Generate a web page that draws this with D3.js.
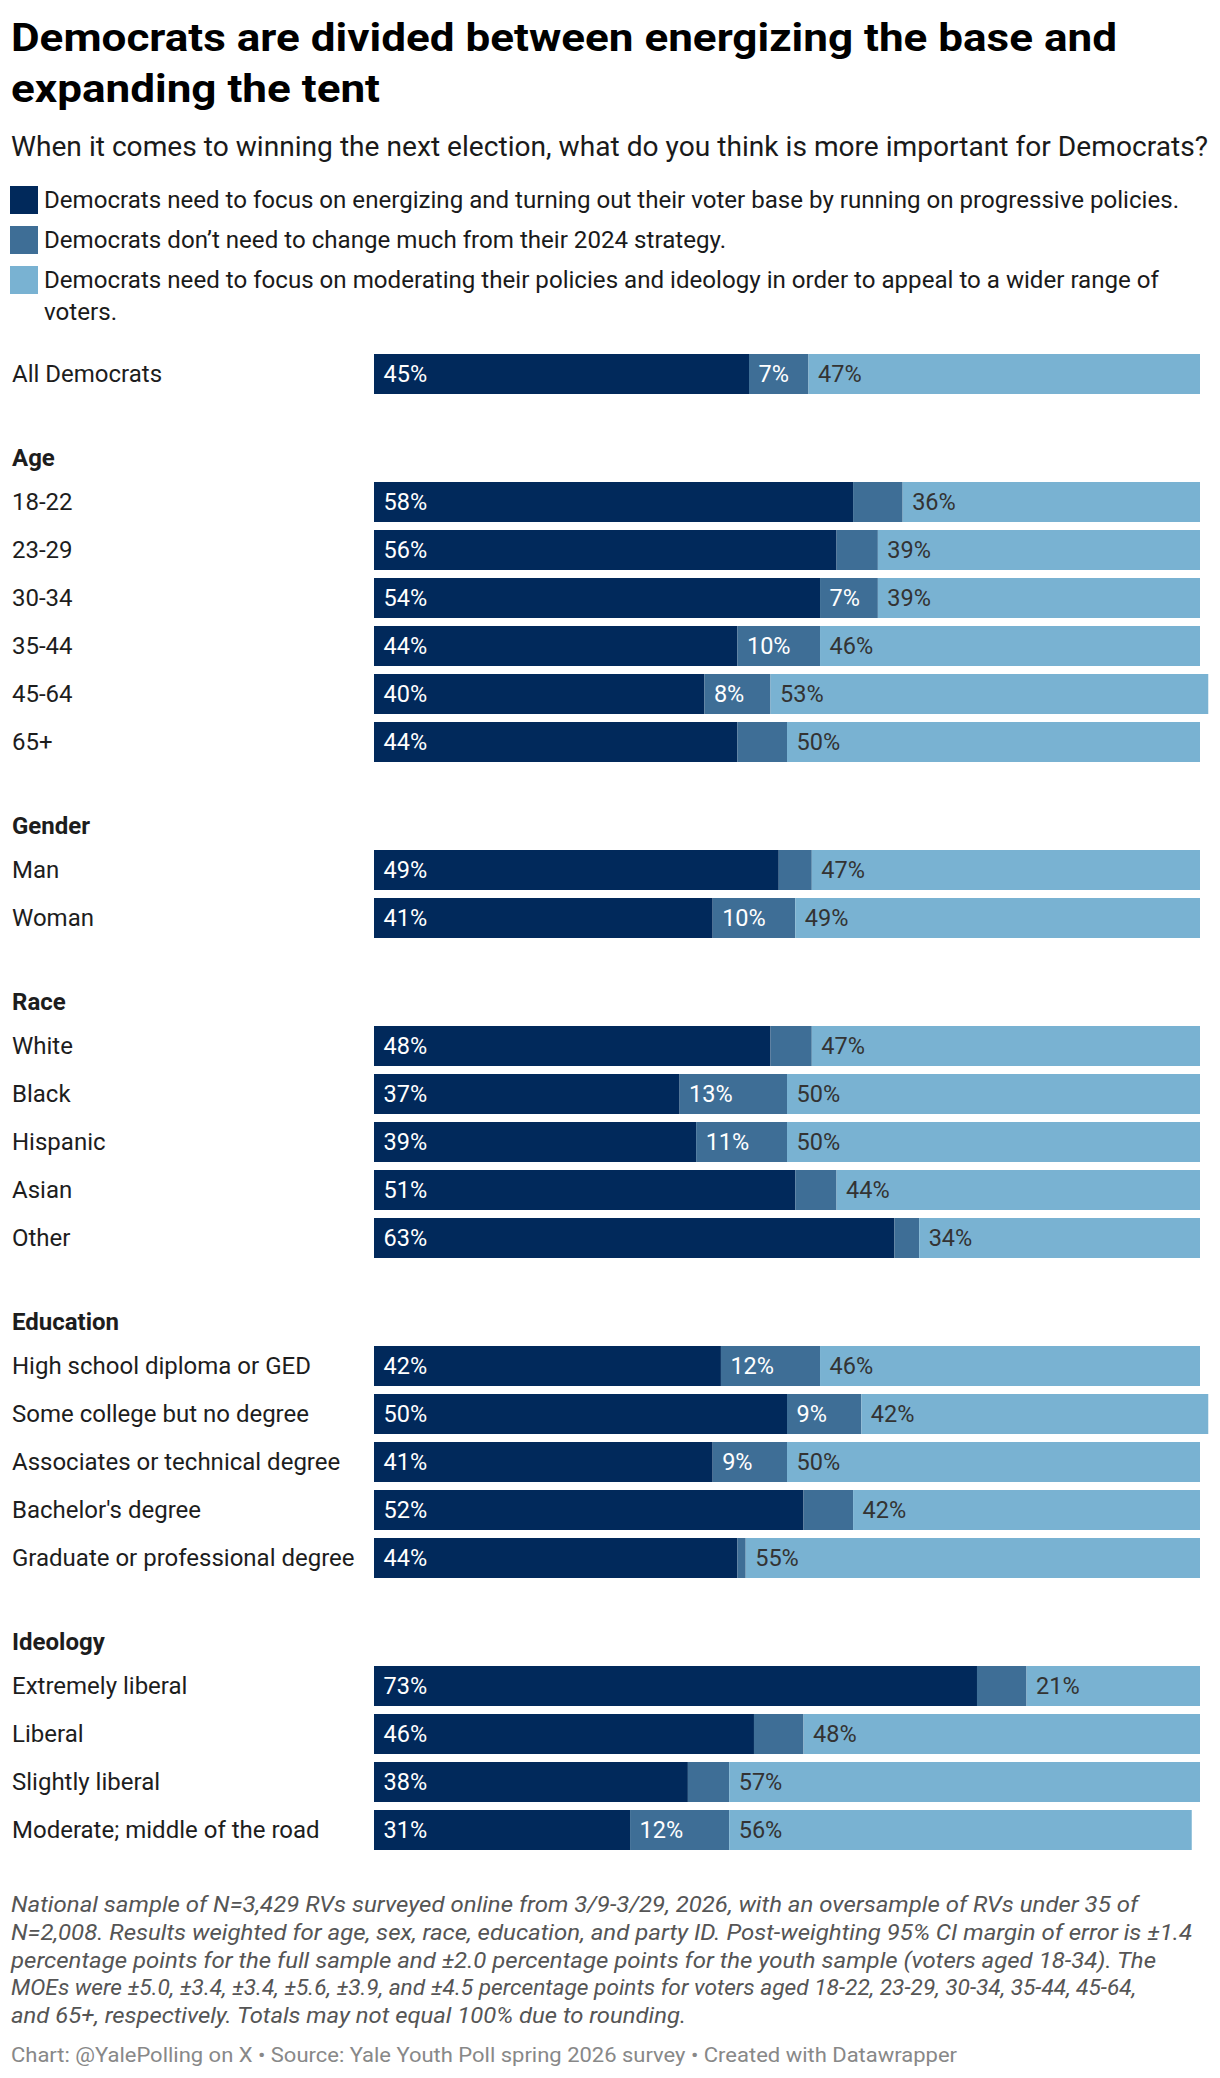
<!DOCTYPE html>
<html>
<head>
<meta charset="utf-8">
<script src="https://cdn.jsdelivr.net/npm/d3@7"></script>
<style>
  body { margin: 0; background: #fff; font-family: Roboto, "Noto Sans", sans-serif; }
  svg text { font-family: Roboto, "Noto Sans", sans-serif; }
</style>
</head>
<body>
<svg id="chart"></svg>
<script>
// groups and their rows
var groups = ["", "Age", "Gender", "Race", "Education", "Ideology"]
var rowGroups = [0, 1,1,1,1,1,1, 2,2, 3,3,3,3,3, 4,4,4,4,4, 5,5,5,5]
var categories = [
  "All Democrats",
  "18-22", "23-29", "30-34", "35-44", "45-64", "65+",
  "Man", "Woman",
  "White", "Black", "Hispanic", "Asian", "Other",
  "High school diploma or GED", "Some college but no degree", "Associates or technical degree",
  "Bachelor's degree", "Graduate or professional degree",
  "Extremely liberal", "Liberal", "Slightly liberal", "Moderate; middle of the road"
]
// energize the base (progressive)
var progressive = [45.4, 58, 56, 54, 44, 40, 44, 49, 41, 48, 37, 39, 51, 63, 42, 50, 41, 52, 44, 73, 46, 38, 31]
// keep the 2024 strategy
var noChange    = [7.2,  6,  5,  7, 10,  8,  6,  4, 10,  5, 13, 11,  5,  3, 12,  9,  9,  6,  1,  6,  6,  5, 12]
// moderate
var moderate    = [47.4, 36, 39, 39, 46, 53, 50, 47, 49, 47, 50, 50, 44, 34, 46, 42, 50, 42, 55, 21, 48, 57, 56]

var colors = ["#01295b", "#3e6e96", "#79b2d2"]
var labelColors = ["#ffffff", "#ffffff", "#333333"]

var titleLines = ["Democrats are divided between energizing the base and", "expanding the tent"]
var subtitle = "When it comes to winning the next election, what do you think is more important for Democrats?"
var legendLines = [
  ["Democrats need to focus on energizing and turning out their voter base by running on progressive policies."],
  ["Democrats don\u2019t need to change much from their 2024 strategy."],
  ["Democrats need to focus on moderating their policies and ideology in order to appeal to a wider range of", "voters."]
]
var notes = [
  "National sample of N=3,429 RVs surveyed online from 3/9-3/29, 2026, with an oversample of RVs under 35 of",
  "N=2,008. Results weighted for age, sex, race, education, and party ID. Post-weighting 95% CI margin of error is \u00b11.4",
  "percentage points for the full sample and \u00b12.0 percentage points for the youth sample (voters aged 18-34). The",
  "MOEs were \u00b15.0, \u00b13.4, \u00b13.4, \u00b15.6, \u00b13.9, and \u00b14.5 percentage points for voters aged 18-22, 23-29, 30-34, 35-44, 45-64,",
  "and 65+, respectively. Totals may not equal 100% due to rounding."
]
var sourceLine = "Chart: @YalePolling on X \u2022 Source: Yale Youth Poll spring 2026 survey \u2022 Created with Datawrapper"

// line widths as set in the original layout
var titleWidths = [1106, 369]
var legendWidths = [[1135], [682], [1115, 73]]
var noteWidths = [1127, 1181, 1145, 1125, 675]

const W = 1220, H = 2078
const GROUP_GAP = 80
const svg = d3.select("#chart").attr("width", W).attr("height", H)

// fit a line to its width only when it comes out narrower or wider than the original
function fit(sel, w) {
  sel.attr("textLength", w).attr("lengthAdjust", "spacingAndGlyphs")
}

// title / subtitle
svg.selectAll(".title").data(titleLines).enter().append("text")
  .attr("x", 11).attr("y", (d, i) => 51 + i * 51)
  .attr("font-size", 38.5).attr("font-weight", 700).attr("fill", "#000")
  .text(d => d)
  .each(function (d, i) { fit(d3.select(this), titleWidths[i]) })

svg.append("text").attr("x", 11).attr("y", 156)
  .attr("font-size", 27.5).attr("fill", "#1a1a1a").text(subtitle)
  .call(fit, 1197)

// legend
const legend = svg.append("g")
legendLines.forEach((lines, i) => {
  legend.append("rect").attr("x", 10).attr("y", 186 + i * 40).attr("width", 28).attr("height", 28)
    .attr("fill", colors[i])
  lines.forEach((l, j) => {
    legend.append("text").attr("x", 44).attr("y", 208 + i * 40 + j * 32)
      .attr("font-size", 24).attr("fill", "#1a1a1a").text(l)
      .call(fit, legendWidths[i][j])
  })
})

// scales
const x = d3.scaleLinear().domain([0, 100]).range([374, 1200])
const yBand = d3.scaleBand()
  .domain(categories)
  .range([350, 350 + categories.length * 48])
  .paddingInner(1 / 6).paddingOuter(1 / 12)
const y = (d, i) => yBand(d) + rowGroups[i] * GROUP_GAP

const rows = categories.map((c, i) => {
  var vals = [progressive[i], noChange[i], moderate[i]]
  var x0 = 0
  var segs = vals.map((v, k) => { var s = {k: k, v: v, x0: x0}; x0 += v; return s })
  return {label: c, i: i, segs: segs}
})

const chart = svg.append("g")

// group headers
groups.forEach((g, gi) => {
  if (!g) return
  var first = rowGroups.indexOf(gi)
  chart.append("text").attr("x", 12).attr("y", y(categories[first], first) - 24)
    .attr("dy", "0.35em").attr("font-size", 24).attr("font-weight", 700).attr("fill", "#1d1d1d")
    .text(g)
})

const row = chart.selectAll(".row").data(rows).enter().append("g").attr("class", "row")
  .attr("transform", d => `translate(0, ${y(d.label, d.i)})`)

row.append("text").attr("x", 12).attr("y", yBand.bandwidth() / 2).attr("dy", "0.35em")
  .attr("font-size", 24).attr("fill", "#1d1d1d").text(d => d.label)

row.selectAll("rect").data(d => d.segs).enter().append("rect")
  .attr("x", d => x(d.x0)).attr("width", d => x(d.x0 + d.v) - x(d.x0))
  .attr("y", 0).attr("height", yBand.bandwidth())
  .attr("fill", d => colors[d.k])

row.selectAll(".val").data(d => d.segs).enter().append("text")
  .attr("class", "val")
  .attr("x", d => x(d.x0) + 9.5).attr("y", yBand.bandwidth() / 2).attr("dy", "0.36em")
  .attr("font-size", 23.5).attr("fill", d => labelColors[d.k])
  .text(d => Math.round(d.v) + "%")
  .each(function (d) {
    var w = x(d.x0 + d.v) - x(d.x0)
    if (this.getComputedTextLength() + 22 > w) d3.select(this).remove()
  })

// notes
svg.selectAll(".note").data(notes).enter().append("text")
  .attr("x", 11).attr("y", (d, i) => 1912 + i * 27.8)
  .attr("font-size", 22).attr("font-style", "italic").attr("fill", "#555")
  .text(d => d)
  .each(function (d, i) { fit(d3.select(this), noteWidths[i]) })

svg.append("text").attr("x", 11).attr("y", 2062)
  .attr("font-size", 19.5).attr("fill", "#888").text(sourceLine)
  .call(fit, 946)
</script>
</body>
</html>
